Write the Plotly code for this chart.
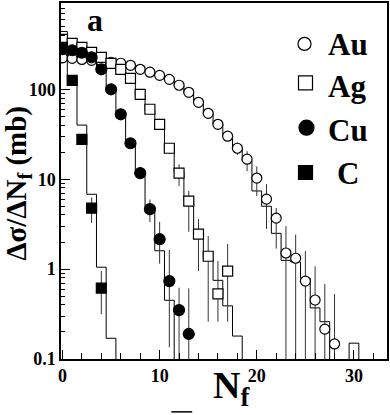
import numpy as np
import plotly.graph_objects as go

# fragment multiplicity distributions
n_au = np.arange(0, 29)
au = [224, 221, 215, 210, 205, 200, 195, 185, 167, 155, 143, 129, 111, 92.6, 71.7,
      54.1, 40.8, 30.1, 22.1, 16.7, 10.3, 6.0, 3.69, 1.51, 1.32, 0.735, 0.453, 0.215, 0.147]
au_up = [0, 0, 0, 0, 0, 0, 0, 0, 0, 0, 0, 0, 0, 3, 3, 3, 3, 3, 3.5, 3.8, 3.6, 2.8, 1.1,
         1.5, 1.1, 0.85, 0.62, 0.47, 0.38]
au_dn = [0, 0, 0, 0, 0, 0, 0, 0, 0, 0, 0, 0, 0, 3, 3, 3, 3, 3, 3.5, 4.4, 3.8, 3.2, 2.0,
         1.51, 1.32, 0.735, 0.453, 0.215, 0.147]

n_ag = np.arange(0, 18)
ag = [359, 325, 293, 258, 227, 194, 167, 132, 88, 60, 40.8, 22.1, 11.7, 5.7, 2.45, 1.39, 0.53, 0.95]
ag_up = [0, 0, 0, 0, 0, 0, 0, 0, 3, 3, 3, 3, 3, 1.7, 1.15, 0.94, 0.7, 0.95]
ag_dn = [0, 0, 0, 0, 0, 0, 0, 0, 3, 3, 3, 3, 3.3, 3.1, 1.5, 1.13, 0.27, 0.69]

n_cu = np.arange(0, 14)
cu = [280, 272, 255, 227, 167, 100, 52.7, 25.1, 11.7, 4.64, 2.15, 0.735, 0.35, 0.19]
cu_up = [0, 0, 0, 0, 0, 0, 0, 2, 1.5, 1.3, 1.2, 0.9, 0.27, 0.42]
cu_dn = [0, 0, 0, 0, 0, 0, 0, 2, 1.5, 1.3, 1.0, 0.6, 0.35, 0.19]

n_c = np.arange(0, 5)
c = [293, 126, 27.8, 4.76, 0.615]
c_up = [0, 0, 3, 1.5, 0.34]
c_dn = [0, 0, 3, 1.5, 0.3]

# model histograms, one value per unit bin starting at N = 0 (0.001 = empty bin)
au_hist = [224, 222, 216, 210, 205, 200, 194, 184, 168, 155, 142, 128, 110, 90, 72, 54,
           41, 30, 22, 16, 7.4, 5.0, 2.5, 1.25, 1.2, 0.79, 0.37, 0.26, 0.001, 0.001, 0.15, 0.001]
ag_hist = [440, 340, 300, 262, 222, 188, 158, 122, 86, 58, 38, 22, 12, 5.8, 2.7, 1.3,
           0.75, 0.39, 0.18, 0.001]
cu_hist = [290, 278, 258, 218, 162, 100, 55, 27, 12.5, 5.0, 1.6, 0.45, 0.001]
c_hist = [300, 140, 40, 6.8, 1.05, 0.17, 0.001]

FONT = "Liberation Serif"

# plot area in pixels: x 61..389, y 2..359
def px(x):
    return (x - 61) / 328

def py(y):
    return (359 - y) / 357


fig = go.Figure()

for hist in [au_hist, ag_hist, cu_hist, c_hist]:
    edges = np.arange(len(hist)) - 0.5
    fig.add_trace(go.Scatter(
        x=edges, y=hist, mode="lines", line_shape="hv",
        line=dict(color="black", width=1), hoverinfo="skip",
    ))

series = [
    (n_au, au, au_up, au_dn, "circle-open", 10),
    (n_ag, ag, ag_up, ag_dn, "square-open", 10),
    (n_cu, cu, cu_up, cu_dn, "circle", 11),
    (n_c, c, c_up, c_dn, "square", 10),
]
for n, vals, up, dn, sym, size in series:
    filled = not sym.endswith("open")
    fig.add_trace(go.Scatter(
        x=n, y=vals, mode="markers",
        marker=dict(symbol=sym.replace("-open", ""), size=size,
                    color="black" if filled else "white",
                    line=dict(color="black", width=1.2)),
        error_y=dict(type="data", symmetric=False, array=up, arrayminus=dn,
                     color="#333333", thickness=1, width=0),
    ))

fig.update_layout(
    width=390, height=415,
    margin=dict(l=61, r=1, t=2, b=56),
    plot_bgcolor="white", paper_bgcolor="white",
    showlegend=False,
    font=dict(family=FONT, color="black"),
)
fig.update_xaxes(
    range=[-0.15, 33.4], tickvals=[0, 10, 20, 30],
    ticks="inside", ticklen=9, tickwidth=1, tickcolor="black",
    minor=dict(ticks="inside", ticklen=6, dtick=2, tick0=0, tickcolor="black"),
    showline=True, linecolor="black", linewidth=1.5, mirror=True,
    showgrid=False, zeroline=False,
    tickfont=dict(family=FONT, size=18, weight="bold"),
)
fig.update_yaxes(
    type="log", range=[-1, 2.96],
    tickvals=[0.1, 1, 10, 100], ticktext=["0.1", "1", "10", "100"],
    ticks="inside", ticklen=9, tickwidth=1, tickcolor="black",
    minor=dict(ticks="inside", ticklen=4, tickcolor="black",
               tickvals=[0.2, 0.3, 0.4, 0.5, 0.6, 0.7, 0.8, 0.9,
                         2, 3, 4, 5, 6, 7, 8, 9,
                         20, 30, 40, 50, 60, 70, 80, 90,
                         200, 300, 400, 500, 600, 700, 800, 900]),
    showline=True, linecolor="black", linewidth=1.5, mirror=True,
    showgrid=False, zeroline=False,
    tickfont=dict(family=FONT, size=18, weight="bold"),
)


def label(x, y, text, size, **kw):
    opts = dict(xanchor="center", yanchor="middle")
    opts.update(kw)
    fig.add_annotation(x=px(x), y=py(y), xref="paper", yref="paper", text=text,
                       showarrow=False, font=dict(family=FONT, size=size), **opts)


# panel label, axis titles
label(95, 19, "<b>a</b>", 32)
label(18, 183, "<b>Δσ/ΔN<sub>f</sub> (mb)</b>", 29, textangle=-90)
label(233, 388, "<b>N<sub>f</sub></b>", 38)
fig.add_shape(type="line", xref="paper", yref="paper", x0=px(172), x1=px(193),
              y0=py(412), y1=py(412), line=dict(color="black", width=1.5))

# hand-drawn key on the right
key = [
    ("Au", 328, 44, "circle", "white", 306, 43, 13),
    ("Ag", 328, 86, "rect", "white", 307, 82, 14),
    ("Cu", 328, 130, "circle", "black", 308, 127, 15),
    ("C", 337, 173, "rect", "black", 307, 172, 14),
]
for name, tx, ty, shape, fill, sx, sy, s in key:
    label(tx, ty, f"<b>{name}</b>", 31, xanchor="left")
    fig.add_shape(type=shape, xref="paper", yref="paper",
                  xsizemode="pixel", ysizemode="pixel",
                  xanchor=px(sx), yanchor=py(sy),
                  x0=-s / 2, x1=s / 2, y0=-s / 2, y1=s / 2,
                  fillcolor=fill, line=dict(color="black", width=1.2))

fig.write_html("out.html", config={"displayModeBar": False},
               post_script="document.body.style.margin='0';")
